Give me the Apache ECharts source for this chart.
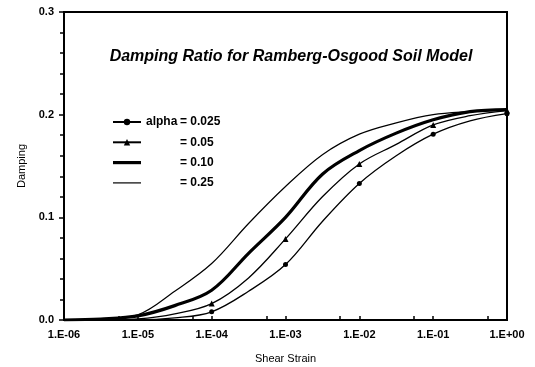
<!DOCTYPE html>
<html>
<head>
<meta charset="utf-8">
<script src="https://cdn.jsdelivr.net/npm/echarts@6/dist/echarts.min.js"></script>
<style>html,body{margin:0;padding:0;background:#fff;}#c{width:535px;height:367px;}</style>
</head>
<body>
<div id="c"></div>
<script>
// Shear strain at half-decade steps (1E-06 ... 1E+00)
var strain = [1e-6, 3.16e-6, 1e-5, 3.16e-5, 1e-4, 3.16e-4, 1e-3, 3.16e-3, 1e-2, 3.16e-2, 1e-1, 3.16e-1, 1];
// Damping
var alpha025 = [0, 0, 0, 0.002, 0.008, 0.028, 0.054, 0.096, 0.133, 0.160, 0.181, 0.194, 0.201];
var alpha05  = [0, 0, 0.001, 0.006, 0.016, 0.041, 0.079, 0.120, 0.152, 0.171, 0.190, 0.199, 0.204];
var alpha10  = [0, 0.001, 0.004, 0.014, 0.029, 0.065, 0.100, 0.142, 0.165, 0.182, 0.195, 0.203, 0.205];
var alpha25  = [0, 0.001, 0.005, 0.028, 0.055, 0.094, 0.130, 0.161, 0.181, 0.192, 0.200, 0.203, 0.205];
// strains where markers are drawn
var markerStrain = [1e-4, 1e-3, 1e-2, 1e-1, 1];
var seriesNames = ['alpha = 0.025', '= 0.05', '= 0.10', '= 0.25'];
var xTickLabels = ['1.E-06', '1.E-05', '1.E-04', '1.E-03', '1.E-02', '1.E-01', '1.E+00'];
var yTickLabels = ['0.0', '0.1', '0.2', '0.3'];
var titleText = 'Damping Ratio for Ramberg-Osgood Soil Model';

function build(vals, sym) {
  return strain.map(function (s, i) {
    var isM = sym !== 'none' && markerStrain.some(function (m) { return Math.abs(m - s) / m < 1e-6; });
    return { value: [s, vals[i]], symbol: isM ? sym : 'none' };
  });
}

var chart = echarts.init(document.getElementById('c'), null, { renderer: 'canvas' });
var FONT = '"Liberation Sans", Arial, sans-serif';
var lineBase = function (name, vals, sym, size, width) {
  return {
    name: name, type: 'line', smooth: 0.35, data: build(vals, sym),
    symbol: sym, symbolSize: size, showSymbol: true,
    lineStyle: { color: '#000', width: width },
    itemStyle: { color: '#000' },
    emphasis: { disabled: true }, animation: false
  };
};

chart.setOption({
  backgroundColor: '#fff',
  animation: false,
  title: {
    text: titleText, left: 291, top: 49, textAlign: 'center', padding: 0,
    textStyle: { fontFamily: FONT, fontSize: 16, fontWeight: 'bold', fontStyle: 'italic', color: '#000' }
  },
  legend: {
    orient: 'vertical', left: 112, top: 115, padding: 0, itemWidth: 28, itemHeight: 8, itemGap: 6.3,
    data: [
      { name: seriesNames[0] },
      { name: seriesNames[1] },
      { name: seriesNames[2], icon: 'path://M0,0H28V3.2H0Z' },
      { name: seriesNames[3], icon: 'path://M0,0H28V1.2H0Z' }
    ],
    formatter: function (n) {
      if (n.indexOf('alpha') === 0) return '{a|alpha}{b|' + n.replace('alpha ', '') + '}';
      return '{a| }{b|' + n + '}';
    },
    textStyle: {
      color: '#000', fontFamily: FONT, fontSize: 12, fontWeight: 'bold', lineHeight: 14,
      rich: {
        a: { width: 34, fontFamily: FONT, fontSize: 12, fontWeight: 'bold', color: '#000', lineHeight: 14 },
        b: { fontFamily: FONT, fontSize: 12, fontWeight: 'bold', color: '#000', lineHeight: 14 }
      }
    }
  },
  grid: { left: 64, right: 28, top: 12, bottom: 47, outerBoundsMode: 'none', show: true, borderColor: '#000', borderWidth: 2, backgroundColor: 'transparent' },
  xAxis: {
    type: 'log', logBase: 10, min: 1e-6, max: 1,
    name: 'Shear Strain', nameLocation: 'middle', nameGap: 33,
    nameTextStyle: { fontFamily: FONT, fontSize: 11, color: '#000' },
    axisLine: { lineStyle: { color: '#000', width: 2 } },
    axisTick: { inside: true, length: 4, lineStyle: { color: '#000', width: 1.5 } },
    minorTick: { show: true, splitNumber: 2, length: 4, lineStyle: { color: '#000', width: 1.5 } },
    splitLine: { show: false },
    axisLabel: {
      margin: 9, color: '#000', fontFamily: FONT, fontSize: 11, fontWeight: 'bold',
      formatter: function (v) { var e = Math.round(Math.log10(v)); return xTickLabels[e + 6]; }
    }
  },
  yAxis: {
    type: 'value', min: 0, max: 0.3, interval: 0.1,
    name: 'Damping', nameLocation: 'middle', nameGap: 34, nameRotate: 90,
    nameTextStyle: { fontFamily: FONT, fontSize: 11, color: '#000' },
    axisLine: { show: true, lineStyle: { color: '#000', width: 2 } },
    axisTick: { show: true, length: 5, lineStyle: { color: '#000', width: 1.5 } },
    minorTick: { show: true, splitNumber: 5, length: 4, lineStyle: { color: '#000', width: 1.5 } },
    splitLine: { show: false },
    axisLabel: {
      margin: 10, color: '#000', fontFamily: FONT, fontSize: 11, fontWeight: 'bold',
      formatter: function (v) { return yTickLabels[Math.round(v * 10)]; }
    }
  },
  series: [
    lineBase(seriesNames[0], alpha025, 'circle', 5, 1.3),
    lineBase(seriesNames[1], alpha05, 'triangle', 6, 1.3),
    lineBase(seriesNames[2], alpha10, 'none', 1, 3.2),
    lineBase(seriesNames[3], alpha25, 'none', 1, 1.2)
  ]
});
</script>
</body>
</html>
